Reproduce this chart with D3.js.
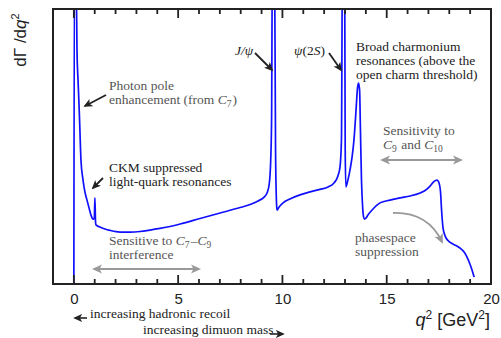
<!DOCTYPE html>
<html>
<head>
<meta charset="utf-8">
<script src="https://cdn.jsdelivr.net/npm/d3@7"></script>
<style>
  body { margin: 0; background: #fff; }
  text.serif { font-family: "Liberation Serif", "Times New Roman", Tinos, "DejaVu Serif", serif; }
  text.sans { font-family: "Liberation Sans", Arial, Helvetica, sans-serif; }
</style>
</head>
<body>
<svg id="chart" width="501" height="338"></svg>
<script>
// q^2 in GeV^2, rate in arbitrary units (0 = bottom of frame, 100 = top)
var q2 = [0.0, 0.03, 0.13, 0.15, 0.20, 0.25, 0.29, 0.34, 0.44, 0.53, 0.63, 0.73, 0.82, 0.92, 0.98,
  1.01, 1.04, 1.06, 1.25, 1.49, 1.73, 2.21, 2.69, 3.17, 3.65, 4.13, 4.61, 5.09, 6.05, 7.01, 7.97,
  8.45, 8.83, 9.12, 9.26, 9.36, 9.43, 9.48, 9.52, 9.62, 9.67, 9.72, 9.74, 9.84, 10.03, 10.36,
  10.84, 11.32, 11.80, 12.19, 12.47, 12.66, 12.76, 12.83, 12.88, 12.98, 13.01, 13.04, 13.14,
  13.24, 13.34, 13.43, 13.53, 13.60, 13.65, 13.70, 13.74, 13.79, 13.84, 13.89, 13.94, 14.01,
  14.10, 14.30, 14.49, 14.68, 15.16, 15.64, 16.12, 16.60, 16.84, 17.08, 17.27, 17.41, 17.51,
  17.58, 17.63, 17.70, 17.80, 17.94, 18.13, 18.32, 18.51, 18.71, 18.85, 18.99, 19.09, 19.19];
var rate = [0, 121, 100, 85.1, 74.2, 64.7, 56.0, 45.1, 37.8, 33.5, 30.5, 27.6, 25.1, 23.6, 24.0,
  31.3, 22.5, 21.5, 20.7, 20.0, 19.5, 18.9, 18.9, 19.1, 19.6, 20.2, 20.9, 21.8, 23.8, 25.8, 27.8,
  28.9, 30.2, 31.6, 33.1, 36.0, 43.3, 59.6, 121, 121, 48.7, 28.7, 26.9, 28.0, 29.5, 30.9,
  32.4, 33.5, 34.4, 35.3, 36.7, 39.3, 42.5, 52.4, 121, 121, 48.7, 35.3, 37.8,
  41.5, 46.2, 52.4, 63.3, 71.3, 73.1, 70.5, 56.0, 37.8, 28.7, 24.4, 23.6, 24.0,
  25.1, 26.9, 28.4, 29.5, 30.5, 31.3, 32.0, 33.1, 34.0, 35.6, 37.3, 37.8, 36.7,
  33.5, 26.9, 20.4, 17.5, 15.8, 14.7, 14.0, 13.1, 11.6, 9.8, 7.3, 5.1, 2.5];
var majorTicks = [0, 5, 10, 15, 20];
var minorTicks = [-1, 0, 1, 2, 3, 4, 5, 6, 7, 8, 9, 10, 11, 12, 13, 14, 15, 16, 17, 18, 19, 20];

var svg = d3.select("#chart");
var pL = 53, pR = 491, pT = 9, pB = 284;

var x = d3.scaleLinear().domain([-1, 20]).range([pL, pR]);
var y = d3.scaleLinear().domain([0, 100]).range([pB, pT]);

var defs = svg.append("defs");
defs.append("clipPath").attr("id", "clip")
  .append("rect").attr("x", pL).attr("y", pT)
  .attr("width", pR - pL).attr("height", pB - pT);

function arrowHead(id, color, size) {
  defs.append("marker").attr("id", id)
    .attr("viewBox", "0 0 10 10").attr("refX", 8).attr("refY", 5)
    .attr("markerWidth", size).attr("markerHeight", size)
    .attr("markerUnits", "userSpaceOnUse")
    .attr("orient", "auto-start-reverse")
    .append("path").attr("d", "M0,0.5 L10,5 L0,9.5 L2.5,5 Z").attr("fill", color);
}
arrowHead("ablack", "#222", 9);
arrowHead("agrey", "#999", 10);

// the curve
var pts = q2.map(function(d, i) { return [d, rate[i]]; });
var line = d3.line()
  .x(function(d) { return x(d[0]); })
  .y(function(d) { return y(d[1]); })
  .curve(d3.curveMonotoneX);

svg.append("path").datum(pts)
  .attr("clip-path", "url(#clip)")
  .attr("d", line)
  .attr("fill", "none")
  .attr("stroke", "#1010ff")
  .attr("stroke-width", 1.7);

svg.append("rect")
  .attr("x", pL).attr("y", pT)
  .attr("width", pR - pL).attr("height", pB - pT)
  .attr("fill", "none").attr("stroke", "#222").attr("stroke-width", 2);

// inward ticks on top and bottom edges (one path per edge)
function tickPath(edgeY, dir) {
  return minorTicks.map(function(d) {
    var len = majorTicks.indexOf(d) >= 0 ? 9 : 5;
    return "M" + x(d) + "," + edgeY + "V" + (edgeY + dir * len);
  }).join("");
}
svg.append("path").attr("d", tickPath(pB, -1) + tickPath(pT, 1))
  .attr("fill", "none").attr("stroke", "#222").attr("stroke-width", 1.8);

var botLab = svg.append("g").attr("transform", "translate(0," + pB + ")")
  .call(d3.axisBottom(x).tickValues(majorTicks).tickSize(0).tickPadding(9.5));
botLab.select(".domain").remove();
botLab.selectAll("text").attr("class", "sans").attr("font-size", 15).attr("fill", "#222");

// axis titles
var xt = svg.append("text").attr("class", "sans")
  .attr("x", 490).attr("y", 326).attr("text-anchor", "end")
  .attr("font-size", 18).attr("fill", "#222");
xt.append("tspan").attr("font-style", "italic").text("q");
xt.append("tspan").attr("font-size", 12).attr("dy", -7).text("2");
xt.append("tspan").attr("dy", 7).text(" [GeV");
xt.append("tspan").attr("font-size", 12).attr("dy", -7).text("2");
xt.append("tspan").attr("dy", 7).text("]");

var yt = svg.append("text").attr("class", "sans")
  .attr("transform", "translate(26,40) rotate(-90)")
  .attr("text-anchor", "middle").attr("font-size", 17).attr("fill", "#222");
yt.append("tspan").text("dΓ /d");
yt.append("tspan").attr("font-style", "italic").text("q");
yt.append("tspan").attr("font-size", 11).attr("dy", -7).text("2");

// annotations
function label(xp, yp, lines, color, size) {
  var t = svg.append("text").attr("class", "serif")
    .attr("font-size", size || 13.5).attr("fill", color);
  lines.forEach(function(parts, i) {
    var first = true;
    parts.forEach(function(p) {
      var s = t.append("tspan");
      if (first) { s.attr("x", xp).attr("y", yp + i * 14); first = false; }
      if (typeof p === "string") { s.text(p); }
      else {
        s.text(p.t);
        if (p.i) s.attr("font-style", "italic");
        if (p.sub) s.attr("font-size", 9.5).attr("dy", 3);
        if (p.up) s.attr("dy", -3);
      }
    });
  });
  return t;
}
function subC(n) { return [{ t: "C", i: true }, { t: n, sub: true }, { t: "\u200a", up: true }]; }

var grey = "#555";
label(109, 90, [["Photon pole"], ["enhancement (from "].concat(subC("7"), [")"])], grey);
label(109, 172, [["CKM suppressed"], ["light-quark resonances"]], "#222");
label(109, 245, [["Sensitive to "].concat(subC("7"), ["\u2013"], subC("9")), ["interference"]], grey);
label(235, 55, [[{ t: "J/\u03c8", i: true }]], "#222");
label(294, 55, [[{ t: "\u03c8", i: true }, "(2", { t: "S", i: true }, ")"]], "#222");
label(356, 51, [["Broad charmonium"], ["resonances (above the"], ["open charm threshold)"]], "#222");
label(383, 135, [["Sensitivity to"], subC("9").concat([" and "], subC("10"))], grey);
label(355, 242, [["phasespace"], ["suppression"]], grey);
label(90, 318, [["increasing hadronic recoil"]], "#222", 13.5);
label(143, 334, [["increasing dimuon mass"]], "#222", 13.5);

function arrow(d, color, marker, both, w) {
  var p = svg.append("path").attr("d", d).attr("fill", "none")
    .attr("stroke", color).attr("stroke-width", w || 1.8)
    .attr("marker-end", "url(#" + marker + ")");
  if (both) p.attr("marker-start", "url(#" + marker + ")");
}
arrow("M106,95 L85,106", "#222", "ablack");
arrow("M103,178 L93,188", "#222", "ablack");
arrow("M255,53 L272,70", "#222", "ablack");
arrow("M329,53 L341,70", "#222", "ablack");
arrow("M87,318 L75,318", "#222", "ablack", false, 1.6);
arrow("M270,334 L283,334", "#222", "ablack", false, 1.6);
arrow("M94,269 L199,269", "#999", "agrey", true);
arrow("M382,160 L461,160", "#999", "agrey", true);
arrow("M393,213 Q428,212 442,242", "#999", "agrey");
</script>
</body>
</html>
